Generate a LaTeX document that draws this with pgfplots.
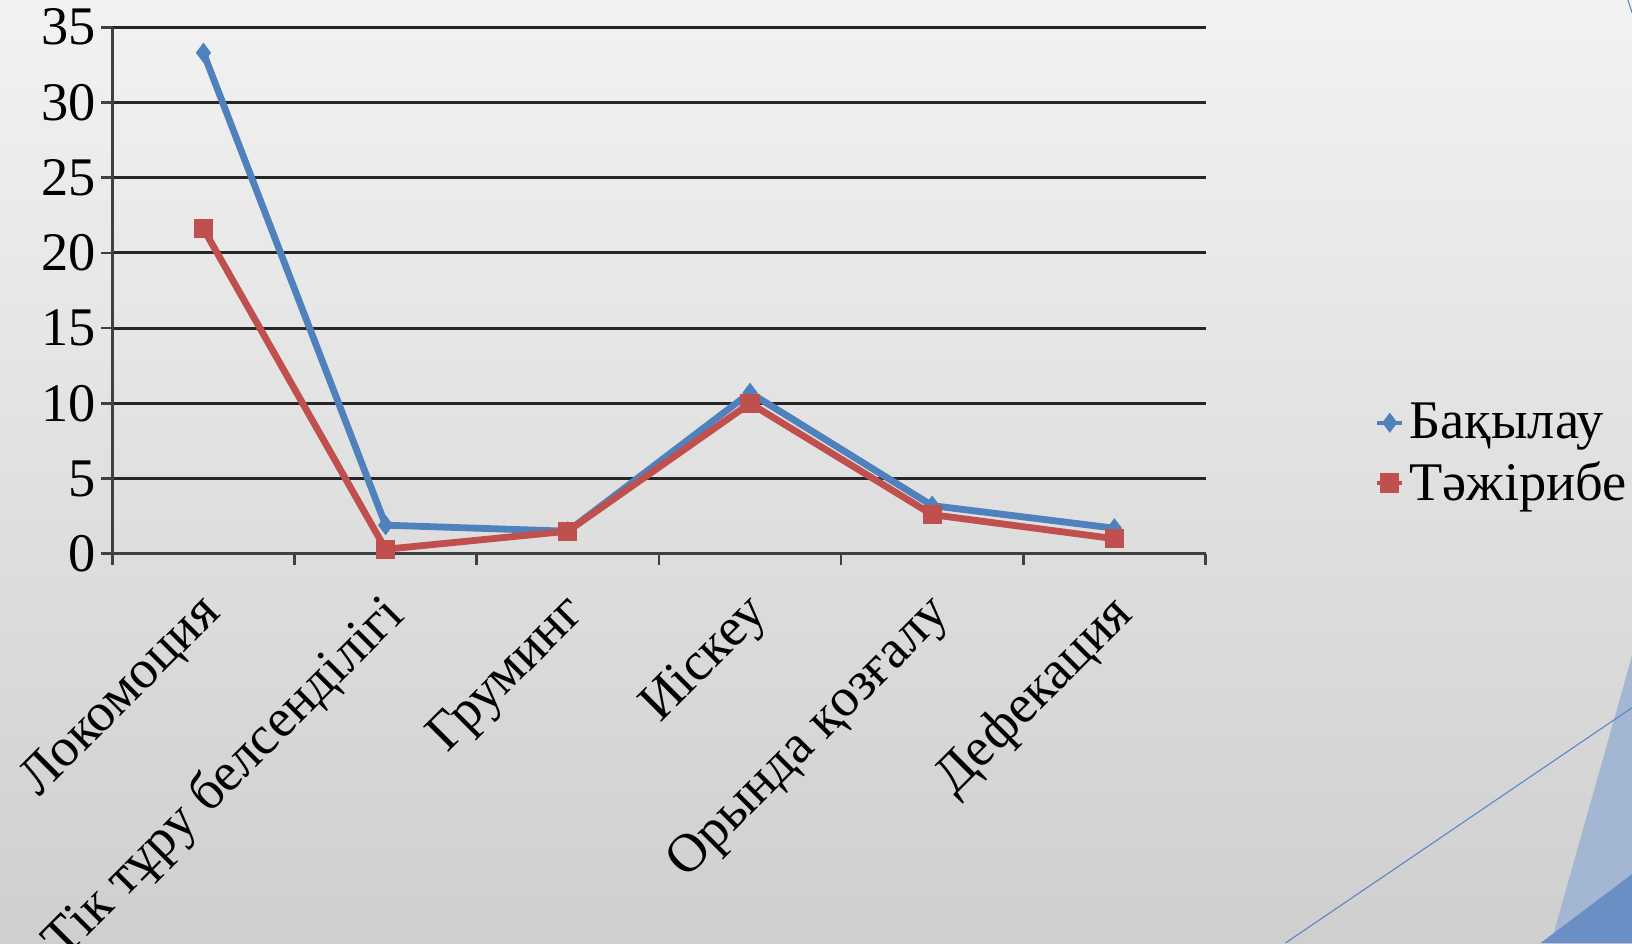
\documentclass[border=0pt]{standalone}
\usepackage{fontspec}
\setmainfont{Liberation Serif}
\usepackage{pgfplots}
\pgfplotsset{compat=1.18}
\definecolor{bblue}{HTML}{4F81BD}
\definecolor{rred}{HTML}{C0504D}
\definecolor{bglight}{HTML}{F2F2F2}
\definecolor{bgdark}{HTML}{CFCFCF}
\definecolor{decolight}{HTML}{A3B6D2}
\definecolor{decodark}{HTML}{6A8FC4}
\definecolor{decoline}{HTML}{5B86C6}

\begin{document}
\begin{tikzpicture}
\clip (0,0) rectangle (600pt,346.7pt);
\shade[top color=bglight, bottom color=bgdark] (0,0) rectangle (600pt,346.7pt);
% slide decoration, bottom right
\fill[decolight] (570.2pt,0pt) -- (600pt,105.6pt) -- (600pt,0pt) -- cycle;
\fill[decodark] (566.4pt,0pt) -- (600pt,25.3pt) -- (600pt,0pt) -- cycle;
\draw[decoline, line width=0.4pt] (472.6pt,0pt) -- (600pt,86.5pt);
\draw[decoline, line width=0.4pt] (598.5pt,346.7pt) -- (600pt,342pt);

\begin{axis}[
    at={(41.3pt,143.1pt)}, anchor=south west,
    scale only axis,
    width=401.9pt, height=193.6pt,
    xmin=0.5, xmax=6.5,
    ymin=0, ymax=35,
    ytick={0,5,...,35},
    xtick={1,...,6},
    xticklabels={Локомоция, Тік тұру белсенділігі, Груминг, Иіскеу, Орында қозғалу, Дефекация},
    minor xtick={0.5,1.5,...,6.5},
    major x tick style={draw=none},
    axis lines*=left,
    ymajorgrids,
    grid style={black!85, line width=1.1pt},
    axis line style={black!75, line width=1.1pt},
    tick style={black!75, line width=1pt},
    tick align=outside,
    major tick length=4pt, minor tick length=4pt,
    font=\fontsize{20}{24}\selectfont,
    ticklabel style={font=\fontsize{20}{24}\selectfont},
    /pgf/number format/assume math mode=true,
    xticklabel style={xshift=-2.5pt, yshift=-9pt, rotate=45, anchor=north east, inner sep=0pt},
    yticklabel style={inner sep=2pt},
    legend style={at={(rel axis cs:1.155,0.19)}, anchor=west,
        draw=none, fill=none, inner sep=0pt, row sep=3pt,
        font=\fontsize{20}{24}\selectfont,
        /tikz/every even column/.append style={column sep=1pt}},
    legend cell align=left,
    legend image code/.code={
        \draw[#1, line width=1.4pt] (0cm,0cm) -- (0.32cm,0cm);
        \draw[#1, only marks] plot coordinates {(0.16cm,0cm)};
    },
]
\addplot[bblue, line width=2.5pt, mark=diamond*, mark size=3.3pt,
    mark options={fill=bblue, draw=bblue, line width=0.5pt}]
    coordinates {(1,33.3) (2,1.9) (3,1.5) (4,10.7) (5,3.2) (6,1.7)};
\addplot[rred, line width=2.5pt, mark=square*, mark size=3.3pt,
    mark options={fill=rred, draw=rred, line width=0.5pt}]
    coordinates {(1,21.6) (2,0.3) (3,1.5) (4,10.0) (5,2.6) (6,1.0)};
\legend{Бақылау, Тәжірибе}
\end{axis}
\end{tikzpicture}
\end{document}
